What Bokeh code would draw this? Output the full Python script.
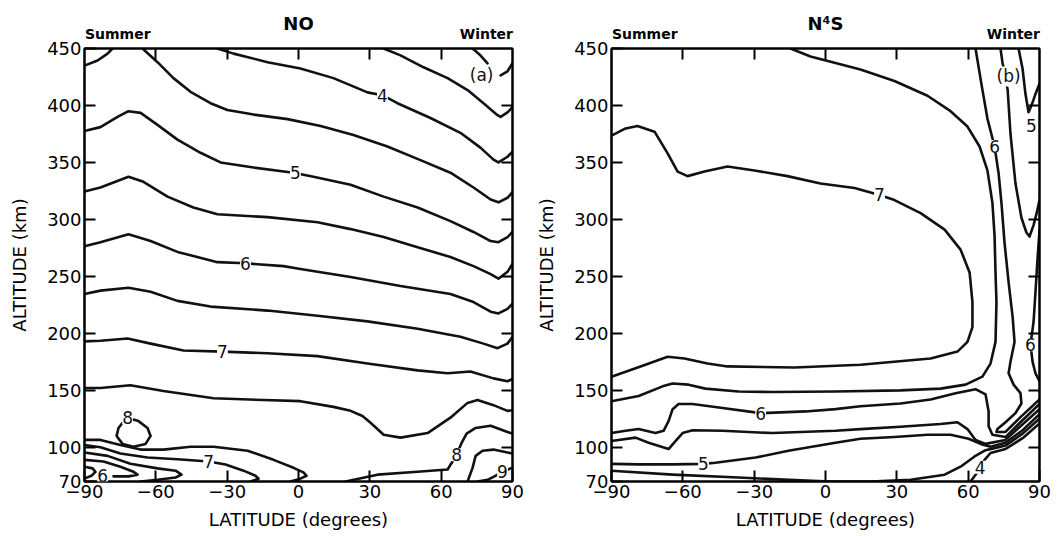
from bokeh.plotting import figure
from bokeh.models import Range1d, LinearAxis, FixedTicker, Label
from bokeh.layouts import row
from bokeh.embed import file_html
from bokeh.resources import INLINE

FONT = "DejaVu Sans"
INK = "#111111"

x_ticks = [-90, -60, -30, 0, 30, 60, 90]
x_tick_labels = ["\u221290", "\u221260", "\u221230", "0", "30", "60", "90"]
y_ticks = [70, 100, 150, 200, 250, 300, 350, 400, 450]
y_tick_labels = ["70", "100", "150", "200", "250", "300", "350", "400", "450"]
season_pos = [-76, 79]
season_names = ["Summer", "Winter"]

# ---------------- Panel (a): NO  (latitude, altitude km) ----------------
no_a_lat = [-90, -84.5, -80.3, -78.2]
no_a_alt = [435, 439.5, 445.5, 450]
no_b_lat = [-65.6, -59.3, -52.6, -45.4, -37.0, -29.9, -18.9, -4.6, 9.3, 23.1, 37.4, 51.3, 63.9, 73.6, 80.8, 84.1, 87.9, 90]
no_b_alt = [450, 438, 424, 412, 402, 396, 392, 388, 382, 374, 364, 352, 341, 328, 317.5, 315, 319, 324]
no_4_lat = [-34.1, -27.3, -13.0, 0.8, 14.7, 29.0, 35.3, 41.6, 55.5, 68.1, 76.5, 82.0, 84.1, 87.9, 90]
no_4_alt = [450, 445.5, 438, 432.5, 424, 411.5, 409, 402, 389, 376, 363, 352.5, 350, 355, 359.5]
no_3_lat = [35.8, 42.9, 52.6, 62.7, 71.1, 77.8, 83.7, 85.0, 87.9, 90]
no_3_alt = [450, 444, 433.5, 424, 413.5, 402, 391.5, 390, 394, 398.5]
no_top1_lat = [73.2, 76.5, 79.5]
no_top1_alt = [450, 444, 437]
no_top2_lat = [85.0, 87.9, 90]
no_top2_alt = [426.5, 430, 437]
no_c_lat = [-90, -83.3, -76.1, -71.5, -66.4, -59.3, -50.9, -41.2, -32.8, -18.9, -2.1, 6.3, 21.9, 35.8, 50.1, 63.9, 73.6, 80.8, 84.1, 87.9, 90]
no_c_alt = [377.5, 381, 390, 395, 393.5, 383, 370, 358.5, 350, 345.5, 341, 337.5, 330.5, 320, 310.5, 298.5, 289, 281, 280, 284.5, 289]
no_d_lat = [-90, -83.3, -71.5, -65.2, -55.1, -44.2, -34.1, -13.0, 8.0, 21.9, 35.8, 50.1, 63.9, 73.6, 80.8, 84.1, 87.9, 90]
no_d_alt = [324.5, 328, 337.5, 333, 320, 310.5, 304.5, 302, 297.5, 291.5, 284.5, 275.5, 267, 259, 252, 248, 254, 261]
no_e_lat = [-90, -83.3, -71.5, -62.2, -50.9, -34.1, -22.3, -6.3, 0.8, 21.9, 42.9, 63.9, 73.6, 80.8, 84.1, 87.9, 90]
no_e_alt = [276.5, 280, 287, 281, 271.5, 262.5, 261.5, 259, 256.5, 249.5, 241.5, 234.5, 227.5, 219, 217.5, 221.5, 226]
no_f_lat = [-90, -83.3, -71.5, -62.2, -50.9, -37.0, -13.0, 8.0, 29.0, 50.1, 68.1, 77.8, 83.7, 87.9, 90]
no_f_alt = [234.5, 237.5, 240, 236.5, 228.5, 223.5, 220, 215.5, 210.5, 204, 197, 191, 187, 191, 197]
no_g_lat = [-90, -83.3, -71.9, -62.2, -48.4, -32.0, -13.0, 8.0, 29.0, 50.1, 62.7, 72.3, 82.0, 87.9, 90]
no_g_alt = [193, 193.5, 195.5, 191, 185, 184, 182.5, 180, 173.5, 167.5, 165, 166.5, 160.5, 158, 160]
no_h_lat = [-90, -83.3, -70.7, -56.8, -35.7, -14.7, 0.8, 14.7, 21.9, 26.9, 30.3, 35.8, 42.9, 54.3, 63.9, 71.1, 75.3, 82.0, 87.9, 90]
no_h_alt = [152, 152, 154.5, 149.5, 143, 141.5, 140.5, 135.5, 132, 127.5, 121.5, 111, 108.5, 112.5, 126, 139, 141.5, 137, 132, 132.5]
no_loop_lat = [-74.0, -75.7, -76.5, -74.0, -69.4, -64.3, -62.2, -63.5, -67.3, -70.7, -74.0]
no_loop_alt = [121.5, 117, 110, 103, 100.5, 103, 110, 117, 123, 125, 121.5]
no_i_lat = [-90, -83.3, -74.9, -66.4, -56.8, -45.4, -35.7, -21.4, -10.5, -2.1, 2.1, 3.4, 0.8, -3.4]
no_i_alt = [106.5, 106.5, 102, 98, 98, 100.5, 100.5, 97, 89, 82, 78, 75, 72.5, 70]
no_j_lat = [-90, -83.3, -74.9, -63.5, -50.9, -37.8, -30.7, -23.1, -18.1, -16.8, -20.2]
no_j_alt = [102, 100, 94.5, 91, 89.5, 87.5, 85, 79.5, 75, 72.5, 70]
no_k_lat = [-90, -80.3, -70.7, -59.3, -51.7, -49.2, -51.7, -59.3, -66.4]
no_k_alt = [95.5, 92.5, 85.5, 81.5, 79.5, 76, 73.5, 71.5, 70]
no_l_lat = [-90, -82.0, -74.9, -69.4, -67.7, -71.5, -77.8]
no_l_alt = [89, 87.5, 83, 78.5, 76, 74.5, 74.5]
no_m_lat = [-90, -86.6, -85.4, -87.1, -90]
no_m_alt = [83, 81.5, 78.5, 75, 72.5]
no_8_lat = [19.8, 33.2, 50.1, 62.7, 66.5, 68.6, 70.7, 74.5, 80.8, 87.9, 90]
no_8_alt = [70, 76, 78.5, 80.5, 93.5, 104, 112, 117, 119, 113.5, 112]
no_85_lat = [71.1, 73.2, 74.5, 77.4, 82.0, 87.9, 90]
no_85_alt = [70, 82, 92.5, 97, 98, 95.5, 94.5]
no_9_lat = [75.3, 79.5, 82.4, 85.8, 89.2, 90]
no_9_alt = [70, 71.5, 74.5, 78.5, 81.5, 82]

no_label_text = ["4", "5", "6", "7", "8", "7", "6", "8", "9", "(a)"]
no_label_lat = [35.3, -1.3, -22.3, -32.0, -71.9, -37.8, -82.4, 66.5, 85.8, 77.0]
no_label_alt = [409, 341, 261.5, 184, 126, 87.5, 75.5, 93.5, 78.5, 426.5]

# ---------------- Panel (b): N4S ----------------
ns_7_lat = [-90, -84.5, -79.1, -71.9, -66.4, -62.2, -58.0, -50.9, -41.2, -29.9, -16.0, -2.1, 12.2, 22.7, 29.0, 40.0, 50.1, 56.8, 60.6, 61.8, 61.8, 59.7, 55.5, 44.2, 14.7, -13.0, -41.2, -49.6, -59.3, -66.4, -77.8, -90]
ns_7_alt = [373.5, 379.5, 382, 377, 358, 342, 338, 342, 346.5, 343, 338, 331.5, 327.5, 321.5, 317, 305.5, 291, 273.5, 253.5, 227.5, 205.5, 192.5, 184, 178, 172.5, 170, 171, 173.5, 178, 179.5, 171, 162]
ns_r1_lat = [-14.7, -6.3, 14.7, 29.0, 42.9, 52.6, 59.7, 64.8, 68.1, 70.2, 71.1, 71.5, 71.9, 71.5, 69.4, 66.0, 58.9, 48.4, 31.5, 4.2, -22.3, -36.6, -50.5, -57.6, -64.3, -68.5, -78.6, -90]
ns_r1_alt = [450, 443, 431.5, 421.5, 408.5, 395, 381.5, 364, 343, 314.5, 285.5, 253.5, 227.5, 192.5, 173.5, 162, 155, 151.5, 150, 149, 148.5, 149, 151.5, 155, 156, 153.5, 145, 140.5]
ns_6t_lat = [63.1, 65.6, 68.1, 71.1, 72.8, 74.0, 75.3, 77.0, 78.7, 79.5, 77.8, 77.0, 79.1, 82.0, 82.4, 79.9, 75.7, 72.3, 71.9, 75.7, 82.0, 90]
ns_6t_alt = [450, 418.5, 388.5, 364, 340.5, 314.5, 279.5, 245, 214.5, 192.5, 175, 165, 155, 147.5, 138.5, 130, 122, 116, 113.5, 113.5, 126.5, 142]
ns_b1_lat = [73.6, 74.4, 75.0]
ns_b1_alt = [450, 438, 432]
ns_b2_lat = [76.0, 76.6, 77.8, 79.9, 82.4, 84.5, 85.8, 87.5, 88.8, 90]
ns_b2_alt = [420, 414, 375, 331.5, 301.5, 288.5, 285, 295, 305.5, 317]
ns_5v_lat = [81.2, 82.9, 84.1, 85.4, 86.8, 88.3, 90]
ns_5v_alt = [450, 432, 410, 394, 401, 410, 419]
ns_6r_lat = [90, 89.2, 88.3, 87.5, 86.2, 87.1, 88.3, 90]
ns_6r_alt = [290, 266.5, 236, 210, 190, 175, 165, 158]
ns_p_lat = [-90, -84.1, -78.6, -71.5, -68.1, -66.0, -64.3, -61.8, -55.9, -43.3, -27.3, -8.4, 4.2, 14.7, 31.5, 44.2, 54.7, 63.1, 67.3, 68.6, 68.6, 70.2, 75.7, 82.0, 90]
ns_p_alt = [112.5, 114.5, 116, 112.5, 114.5, 123, 133.5, 138, 138, 134.5, 130, 131.5, 133.5, 136, 138.5, 142, 147.5, 151, 146.5, 131.5, 118.5, 111, 109, 122, 138]
ns_q_lat = [-90, -79.9, -74.4, -66.0, -63.1, -60.1, -55.9, -43.3, -22.3, 4.2, 14.7, 31.5, 48.4, 55.5, 59.7, 63.1, 67.3, 75.7, 82.0, 90]
ns_q_alt = [105.5, 108.5, 104, 98.5, 105.5, 112.5, 115, 114.5, 112.5, 114.5, 116, 118, 120.5, 122, 116, 106.5, 103, 106.5, 118.5, 133.5]
ns_5_lat = [-90, -78.6, -64.3, -51.3, -46.3, -29.4, -15.6, 4.2, 14.7, 29.0, 42.9, 52.6, 60.2, 65.2, 69.4, 75.7, 82.9, 90]
ns_5_alt = [85.5, 85, 85, 85.5, 86.5, 91, 97, 104, 107.5, 109, 111, 111, 107.5, 103, 100.5, 104, 115, 129]
ns_s_lat = [-90, -64.3, -36.6, -10.5, 2.1, 18.9, 35.8, 50.1, 56.8, 62.7, 67.3, 71.5, 75.7, 82.9, 90]
ns_s_alt = [79.5, 76, 73.5, 71, 70, 70, 71.5, 76, 83, 92, 97.5, 99.5, 101.5, 112, 125]
ns_4_lat = [61.0, 63.5, 64.8, 66.9, 69.4, 75.7, 82.9, 90]
ns_4_alt = [70, 77, 82, 89, 95, 98.5, 108, 121]

ns_label_text = ["7", "6", "5", "(b)", "6", "6", "5", "4"]
ns_label_lat = [22.7, 71.1, 86.6, 77.0, 86.2, -27.3, -51.3, 65.0]
ns_label_alt = [321.5, 364, 382, 425.5, 190, 130, 85.5, 82.5]


def make_panel(title, lines, lab_text, lab_lat, lab_alt, width, b_top, b_bottom, b_right):
    p = figure(width=width, height=536, x_range=Range1d(-90, 90), y_range=Range1d(70, 450),
               output_backend="svg", toolbar_location=None,
               min_border_left=84, min_border_right=b_right,
               min_border_top=b_top, min_border_bottom=b_bottom)
    p.grid.visible = False
    p.background_fill_color = "white"
    p.border_fill_color = "white"
    p.outline_line_color = "black"
    p.outline_line_width = 2

    for lat, alt in lines:
        p.line(lat, alt, line_color=INK, line_width=2.6, line_join="round", line_cap="round")

    def style(ax):
        ax.major_tick_in = 11
        ax.major_tick_out = 0
        ax.minor_tick_line_color = None
        ax.major_tick_line_width = 2
        ax.major_tick_line_color = "black"
        ax.axis_line_width = 2
        ax.axis_line_color = "black"
        ax.major_label_text_font = FONT
        ax.major_label_text_font_size = "18px"
        ax.major_label_text_color = "black"
        ax.major_label_standoff = 3
        ax.axis_label_text_font = FONT
        ax.axis_label_text_font_size = "18px"
        ax.axis_label_text_font_style = "normal"
        ax.axis_label_text_color = "black"

    xa = p.xaxis[0]
    style(xa)
    xa.ticker = FixedTicker(ticks=x_ticks)
    xa.major_label_overrides = dict(zip(x_ticks, x_tick_labels))
    xa.axis_label = "LATITUDE (degrees)"
    xa.axis_label_standoff = 8

    ya = p.yaxis[0]
    style(ya)
    ya.ticker = FixedTicker(ticks=y_ticks)
    ya.major_label_overrides = dict(zip(y_ticks, y_tick_labels))
    ya.axis_label = "ALTITUDE (km)"
    ya.axis_label_standoff = 14

    # inward tick marks on the top and right edges (no labels)
    top = LinearAxis(ticker=FixedTicker(ticks=[-60, -30, 0, 30, 60]))
    style(top)
    top.major_label_text_color = None
    top.major_label_text_font_size = "1px"
    top.major_label_standoff = 0
    p.add_layout(top, "above")

    right = LinearAxis(ticker=FixedTicker(ticks=[100, 150, 200, 250, 300, 350, 400]))
    style(right)
    right.major_label_text_color = None
    right.major_label_text_font_size = "1px"
    right.major_label_standoff = 0
    p.add_layout(right, "right")

    # season words + panel title carried by a tick-less axis above the frame
    seasons = LinearAxis(ticker=FixedTicker(ticks=season_pos))
    seasons.major_label_overrides = dict(zip(season_pos, season_names))
    seasons.major_tick_in = 0
    seasons.major_tick_out = 0
    seasons.minor_tick_line_color = None
    seasons.major_tick_line_color = None
    seasons.axis_line_color = None
    seasons.major_label_text_font = FONT
    seasons.major_label_text_font_size = "14px"
    seasons.major_label_text_font_style = "bold"
    seasons.major_label_text_color = "black"
    seasons.major_label_standoff = 7
    seasons.axis_label = title
    seasons.axis_label_text_font = FONT
    seasons.axis_label_text_font_size = "18px"
    seasons.axis_label_text_font_style = "bold"
    seasons.axis_label_text_color = "black"
    seasons.axis_label_standoff = -11
    p.add_layout(seasons, "above")

    for t, la, al in zip(lab_text, lab_lat, lab_alt):
        p.add_layout(Label(x=la, y=al, text=t, text_font=FONT, text_font_size="17px",
                           text_align="center", text_baseline="middle", text_color=INK,
                           background_fill_color="white", background_fill_alpha=1.0))
    return p


no_lines = [(no_a_lat, no_a_alt), (no_b_lat, no_b_alt), (no_4_lat, no_4_alt), (no_3_lat, no_3_alt),
            (no_top1_lat, no_top1_alt), (no_top2_lat, no_top2_alt), (no_c_lat, no_c_alt),
            (no_d_lat, no_d_alt), (no_e_lat, no_e_alt), (no_f_lat, no_f_alt), (no_g_lat, no_g_alt),
            (no_h_lat, no_h_alt), (no_loop_lat, no_loop_alt), (no_i_lat, no_i_alt),
            (no_j_lat, no_j_alt), (no_k_lat, no_k_alt), (no_l_lat, no_l_alt), (no_m_lat, no_m_alt),
            (no_8_lat, no_8_alt), (no_85_lat, no_85_alt), (no_9_lat, no_9_alt)]
ns_lines = [(ns_7_lat, ns_7_alt), (ns_r1_lat, ns_r1_alt), (ns_6t_lat, ns_6t_alt),
            (ns_b1_lat, ns_b1_alt), (ns_b2_lat, ns_b2_alt), (ns_5v_lat, ns_5v_alt),
            (ns_6r_lat, ns_6r_alt), (ns_p_lat, ns_p_alt), (ns_q_lat, ns_q_alt),
            (ns_5_lat, ns_5_alt), (ns_s_lat, ns_s_alt), (ns_4_lat, ns_4_alt)]

p1 = make_panel("NO", no_lines, no_label_text, no_label_lat, no_label_alt,
                width=527, b_top=48, b_bottom=52, b_right=15)
p2 = make_panel("N\u2074S", ns_lines, ns_label_text, ns_label_lat, ns_label_alt,
                width=530, b_top=44, b_bottom=55, b_right=18)

layout = row(p1, p2)
open("out.html", "w").write(file_html(layout, INLINE))
